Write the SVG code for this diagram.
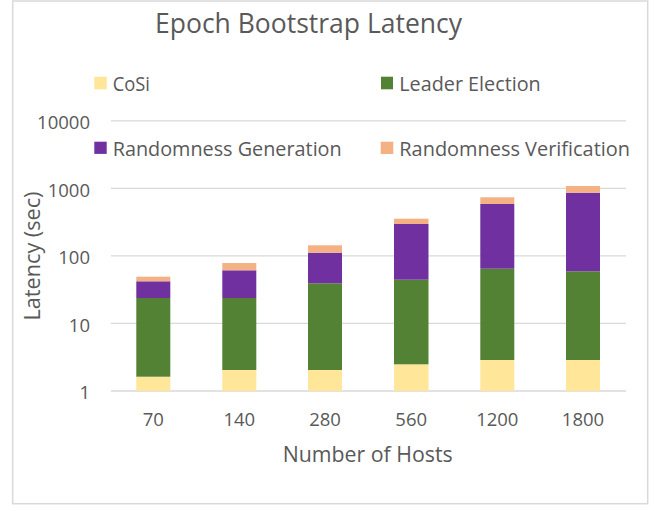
<svg xmlns="http://www.w3.org/2000/svg" width="654" height="511" viewBox="0 0 654 511">
<style>
text{font-family:"Open Sans","Liberation Sans",sans-serif;fill:#595959}
.title{font-size:27px}
.leg{font-size:20px}
.tick{font-size:18.5px}
.axt{font-size:21px}
.grid{stroke:#d9d9d9;stroke-width:1.3}
.cosi{fill:#FFE699}
.lead{fill:#548235}
.rgen{fill:#7030A0}
.rver{fill:#F4B183}
</style>
<rect x="0" y="0" width="654" height="511" fill="#ffffff"/>
<rect id="frame" x="12.7" y="1" width="635" height="502.7" fill="none" stroke="#d9d9d9" stroke-width="1.5"/>
<text id="title" class="title" x="155" y="33.3" textLength="307" lengthAdjust="spacingAndGlyphs">Epoch Bootstrap Latency</text>
<g id="legend">
<g id="leg-cosi"><rect class="cosi" x="94.3" y="76.7" width="12.4" height="12.6"/><text class="leg" x="112.7" y="91" textLength="37.3" lengthAdjust="spacingAndGlyphs">CoSi</text></g>
<g id="leg-lead"><rect class="lead" x="381" y="76.7" width="12" height="12.6"/><text class="leg" x="399.3" y="91" textLength="141.4" lengthAdjust="spacingAndGlyphs">Leader Election</text></g>
<g id="leg-rgen"><rect class="rgen" x="94.3" y="141.7" width="12.4" height="12.2"/><text class="leg" x="112.7" y="156" textLength="229" lengthAdjust="spacingAndGlyphs">Randomness Generation</text></g>
<g id="leg-rver"><rect class="rver" x="380.7" y="141.7" width="12.6" height="12.3"/><text class="leg" x="399.3" y="156" textLength="230.7" lengthAdjust="spacingAndGlyphs">Randomness Verification</text></g>
</g>
<g id="gridlines">
<line class="grid" x1="111" y1="120.8" x2="626" y2="120.8"/>
<line class="grid" x1="111" y1="188.3" x2="626" y2="188.3"/>
<line class="grid" x1="111" y1="255.9" x2="626" y2="255.9"/>
<line class="grid" x1="111" y1="323.4" x2="626" y2="323.4"/>
<line class="grid" x1="111" y1="391" x2="626" y2="391"/>
</g>
<g id="yticks" text-anchor="end">
<text class="tick" x="90" y="129">10000</text>
<text class="tick" x="90" y="197">1000</text>
<text class="tick" x="90" y="264">100</text>
<text class="tick" x="90" y="332">10</text>
<text class="tick" x="90" y="399">1</text>
</g>
<text id="ytitle" class="axt" transform="translate(40,256) rotate(-90)" text-anchor="middle" textLength="129" lengthAdjust="spacingAndGlyphs">Latency (sec)</text>
<g id="bar-70">
<rect class="cosi" x="136.3" y="376.7" width="34" height="14.3"/>
<rect class="lead" x="136.3" y="298" width="34" height="78.7"/>
<rect class="rgen" x="136.3" y="281.3" width="34" height="16.7"/>
<rect class="rver" x="136.3" y="276.7" width="34" height="4.6"/>
</g>
<g id="bar-140">
<rect class="cosi" x="222.3" y="370" width="34" height="21"/>
<rect class="lead" x="222.3" y="298" width="34" height="72"/>
<rect class="rgen" x="222.3" y="270.3" width="34" height="27.7"/>
<rect class="rver" x="222.3" y="263" width="34" height="7.3"/>
</g>
<g id="bar-280">
<rect class="cosi" x="308" y="370" width="34" height="21"/>
<rect class="lead" x="308" y="283.3" width="34" height="86.7"/>
<rect class="rgen" x="308" y="252.7" width="34" height="30.6"/>
<rect class="rver" x="308" y="245.3" width="34" height="7.4"/>
</g>
<g id="bar-560">
<rect class="cosi" x="394" y="364.3" width="34.5" height="26.7"/>
<rect class="lead" x="394" y="279.7" width="34.5" height="84.6"/>
<rect class="rgen" x="394" y="224" width="34.5" height="55.7"/>
<rect class="rver" x="394" y="218.7" width="34.5" height="5.3"/>
</g>
<g id="bar-1200">
<rect class="cosi" x="480.3" y="360" width="34" height="31"/>
<rect class="lead" x="480.3" y="268.7" width="34" height="91.3"/>
<rect class="rgen" x="480.3" y="204" width="34" height="64.7"/>
<rect class="rver" x="480.3" y="197.3" width="34" height="6.7"/>
</g>
<g id="bar-1800">
<rect class="cosi" x="566" y="360" width="34" height="31"/>
<rect class="lead" x="566" y="271.3" width="34" height="88.7"/>
<rect class="rgen" x="566" y="192.7" width="34" height="78.6"/>
<rect class="rver" x="566" y="186" width="34" height="6.7"/>
</g>
<g id="xticks" text-anchor="middle">
<text class="tick" x="153.3" y="426">70</text>
<text class="tick" x="239.3" y="426">140</text>
<text class="tick" x="325" y="426">280</text>
<text class="tick" x="411.2" y="426">560</text>
<text class="tick" x="497.3" y="426">1200</text>
<text class="tick" x="583" y="426">1800</text>
</g>
<text id="xtitle" class="axt" x="282.7" y="461.7" textLength="170" lengthAdjust="spacingAndGlyphs">Number of Hosts</text>
</svg>
